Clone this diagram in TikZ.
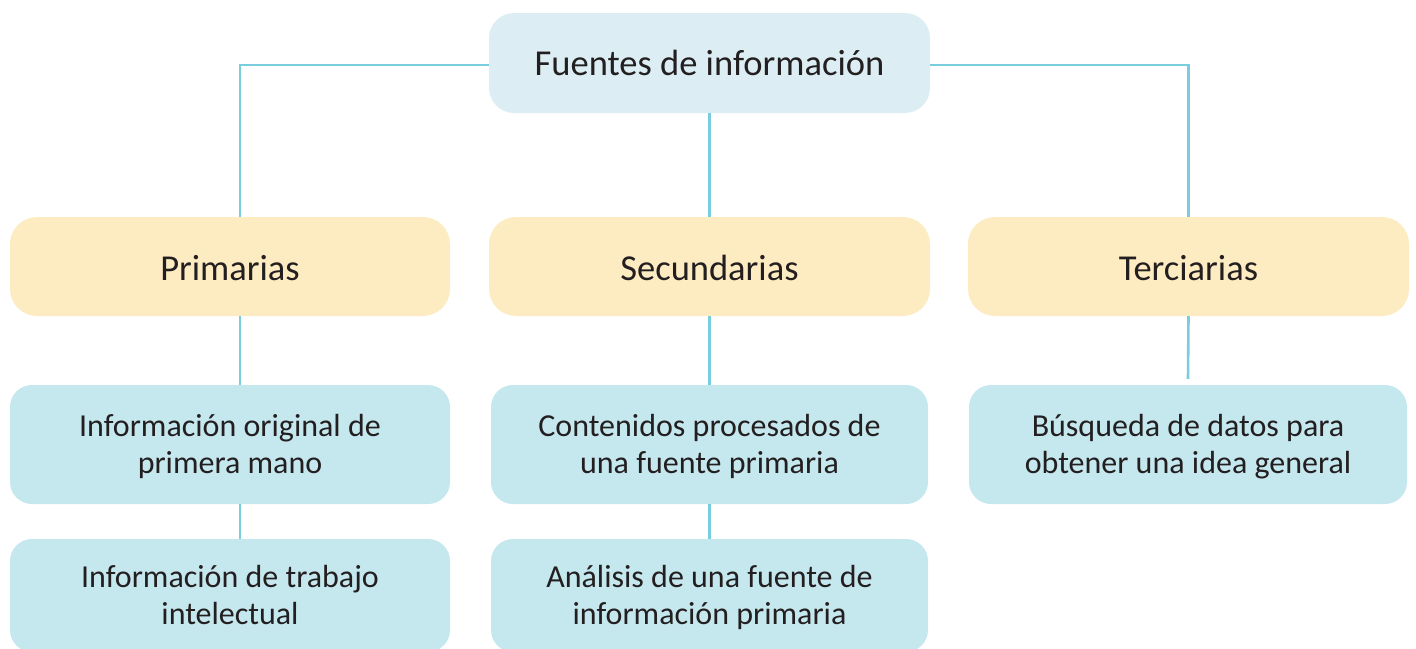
\documentclass[tikz,border=0pt]{standalone}
\usepackage{fontspec}
\setmainfont{Carlito}
\definecolor{topblue}{HTML}{DCEEF3}
\definecolor{ybox}{HTML}{FDEBC2}
\definecolor{lblue}{HTML}{C5E7EE}
\definecolor{linec}{HTML}{78CEDF}
\definecolor{txtc}{HTML}{231F20}
\newcommand{\myupstrut}{\rule{0pt}{29pt}}
\newcommand{\mydnstrut}{\rule[-8pt]{0pt}{8pt}}
\begin{document}
\begin{tikzpicture}[x=1pt,y=-1pt,
  basebox/.style={inner sep=0pt, align=center, text=txtc},
  headbox/.style={basebox, fill=topblue, rounded corners=25pt, minimum width=441pt, minimum height=100pt, text height=24pt, text depth=0pt, font=\fontsize{36.5}{44}\selectfont},
  catbox/.style={basebox, fill=ybox, rounded corners=27pt, minimum height=99pt, text height=27pt, text depth=0pt, font=\fontsize{36.5}{44}\selectfont},
  descbox/.style={basebox, fill=lblue, rounded corners=22pt, font=\fontsize{32}{37}\selectfont},
  conn/.style={draw=linec, line width=2.6pt}]
\useasboundingbox (0,0) rectangle (1416,648);
\clip (0,0) rectangle (1416,648);
\node[headbox] (top) at (709.5,63) {Fuentes de información};
\node[catbox, minimum width=440pt] (prim) at (230,266.5) {Primarias};
\node[catbox, minimum width=441pt] (sec) at (709.5,266.5) {Secundarias};
\node[catbox, minimum width=441pt] (ter) at (1188.5,266.5) {Terciarias};
\node[descbox, minimum width=440pt, minimum height=119pt] (p1) at (230,444.5) {\myupstrut Información original de\\primera mano\mydnstrut};
\node[descbox, minimum width=437pt, minimum height=119pt] (s1) at (709.5,444.5) {\myupstrut Contenidos procesados de\\una fuente primaria\mydnstrut};
\node[descbox, minimum width=438pt, minimum height=119pt] (t1) at (1188,444.5) {\myupstrut Búsqueda de datos para\\obtener una idea general\mydnstrut};
\node[descbox, minimum width=440pt, minimum height=113pt] (p2) at (230,595.5) {\myupstrut Información de trabajo\\intelectual\mydnstrut};
\node[descbox, minimum width=437pt, minimum height=113pt] (s2) at (709.5,595.5) {\myupstrut Análisis de una fuente de\\información primaria\mydnstrut};
\coordinate (tend) at ([yshift=6pt]t1.north);
\draw[conn] ([yshift=-2pt]top.west) -| ([xshift=10pt]prim.north);
\draw[conn] ([yshift=-2pt]top.east) -| (ter.north);
\draw[conn] (top.south) -- (sec.north);
\draw[conn] ([xshift=10pt]prim.south) -- ([xshift=10pt]p1.north);
\draw[conn] ([xshift=10pt]p1.south) -- ([xshift=10pt]p2.north);
\draw[conn] (sec.south) -- (s1.north);
\draw[conn] (s1.south) -- (s2.north);
\draw[conn] (ter.south) -- (tend);
\end{tikzpicture}
\end{document}
